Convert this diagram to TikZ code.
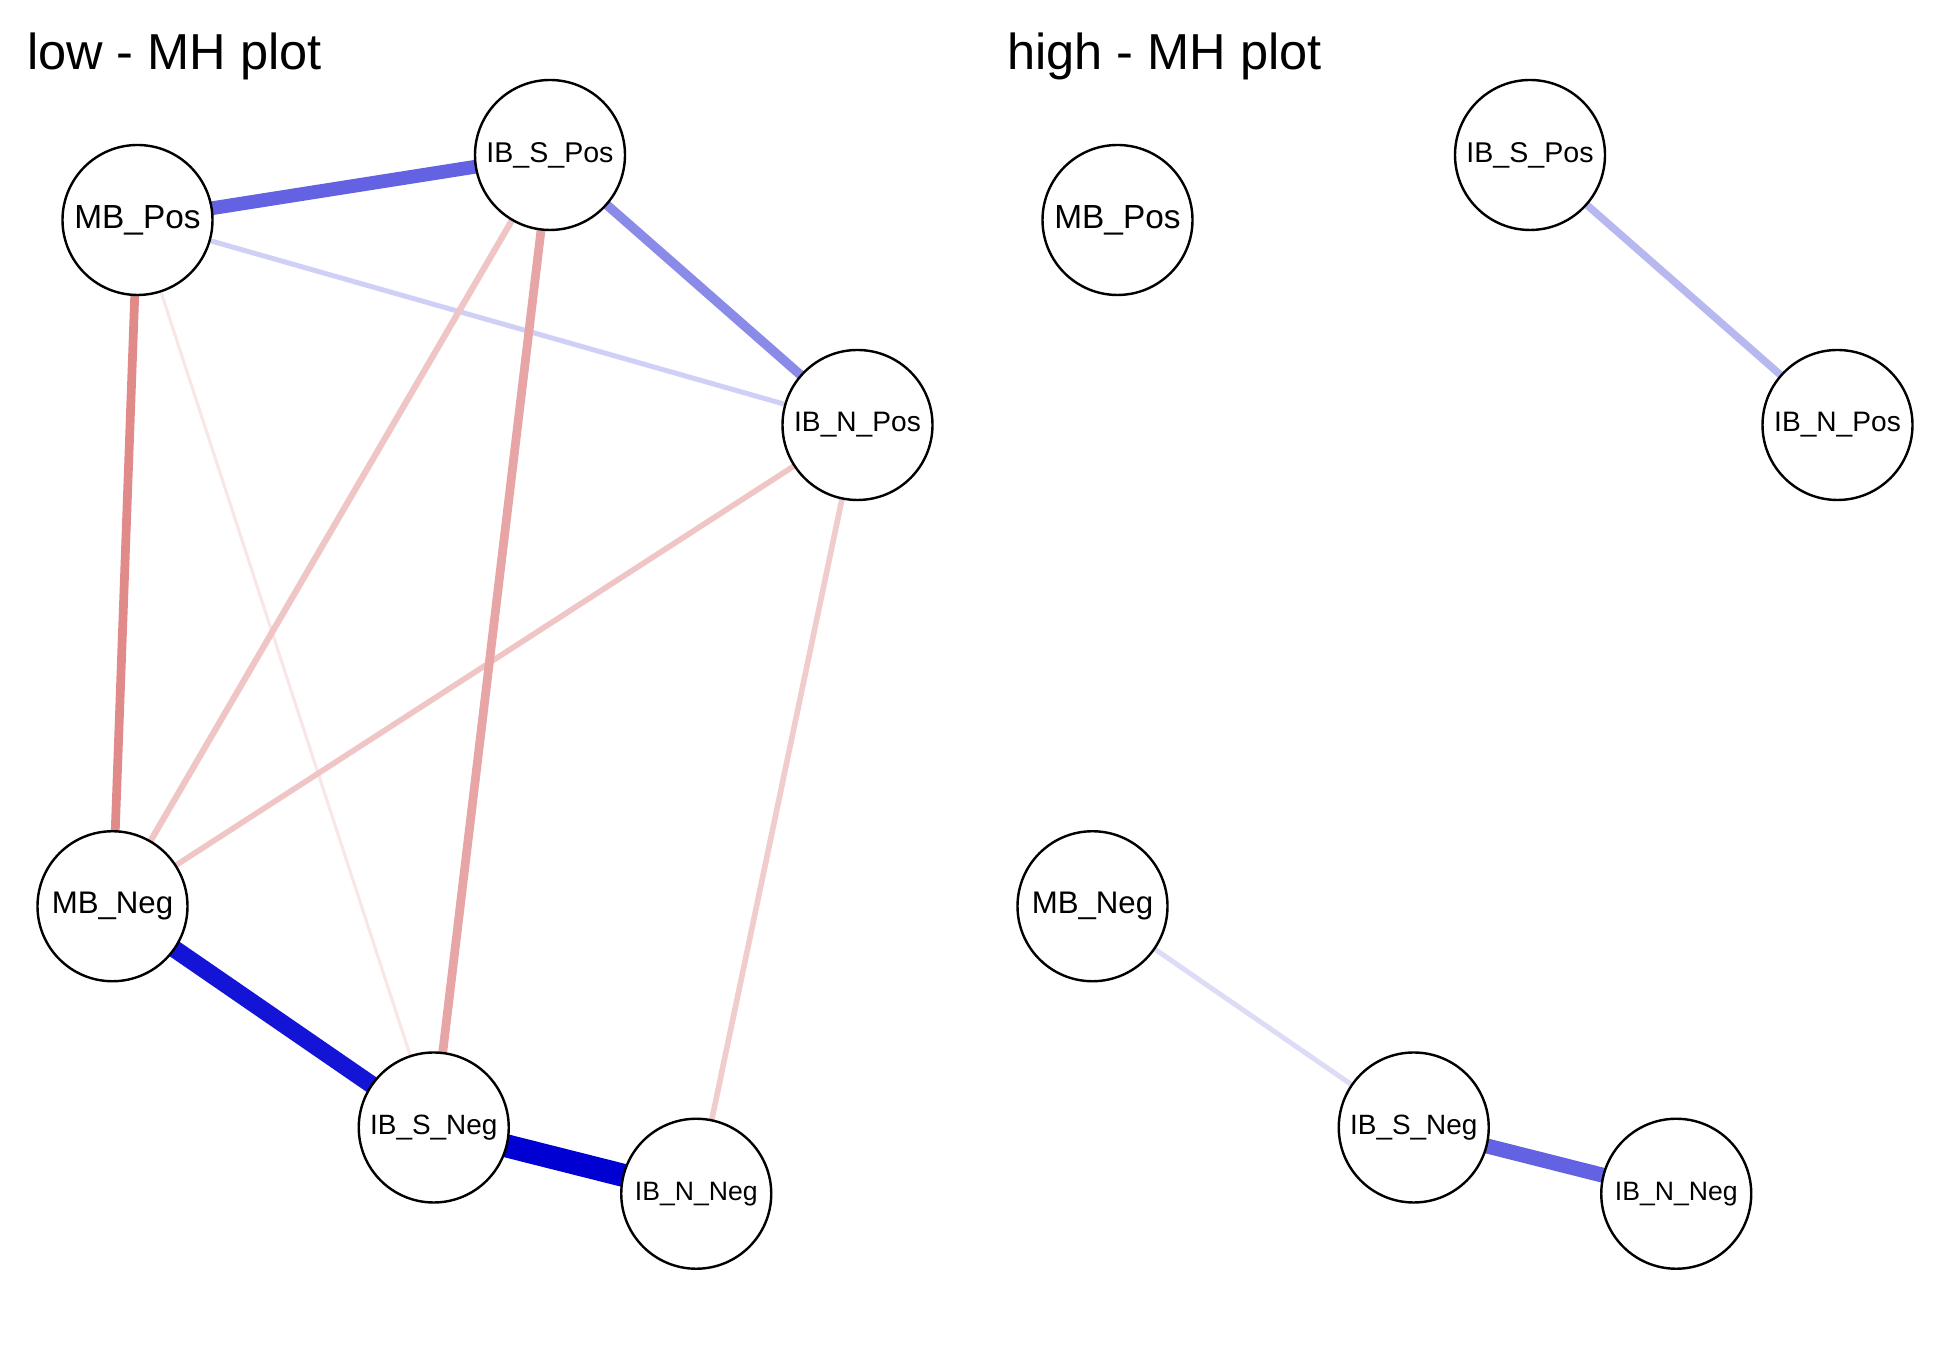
\documentclass[tikz,border=0pt]{standalone}
\usepackage{fontspec}
\setmainfont{Liberation Sans}
\usetikzlibrary{backgrounds}
\definecolor{eBlueA}{HTML}{6262E2}
\definecolor{eBlueB}{HTML}{8A8AE8}
\definecolor{eBlueC}{HTML}{D0D0F6}
\definecolor{eBlueD}{HTML}{1414D6}
\definecolor{eBlueE}{HTML}{0000D2}
\definecolor{eBlueF}{HTML}{B8B8F0}
\definecolor{eBlueG}{HTML}{DCDCF6}
\definecolor{eRedA}{HTML}{E08A8A}
\definecolor{eRedB}{HTML}{E8A5A5}
\definecolor{eRedC}{HTML}{EFC5C5}
\definecolor{eRedD}{HTML}{F0CCCC}
\definecolor{eRedE}{HTML}{F8E7E6}
\tikzset{
  vnode/.style={circle, draw=black, line width=0.55pt, fill=white, minimum size=120*0.01cm, inner sep=0pt},
  lab/.style={font=\fontsize{#1}{#1}\selectfont},
  edge/.style={line width=#1*0.2845pt},
  ttl/.style={anchor=base west, font=\fontsize{11.5}{12}\selectfont, inner sep=0pt}
}
\begin{document}
\begin{tikzpicture}[x=0.01cm, y=-0.01cm]
\useasboundingbox (0,0) rectangle (1560,1080);
% titles
\node[ttl] (t1) at (21,56) {low - MH plot};
\node[ttl] (t2) at (805,56) {high - MH plot};
% left panel
\node[vnode, lab=7.6] (lMBP) at (110,176) {MB\_Pos};
\node[vnode, lab=6.5] (lISP) at (440,124) {IB\_S\_Pos};
\node[vnode, lab=6.4] (lINP) at (686,340) {IB\_N\_Pos};
\node[vnode, lab=7.1] (lMBN) at (90,725) {MB\_Neg};
\node[vnode, lab=6.35] (lISN) at (347,902) {IB\_S\_Neg};
\node[vnode, lab=6.05] (lINN) at (557,955) {IB\_N\_Neg};
% right panel
\node[vnode, lab=7.6] (rMBP) at (894,176) {MB\_Pos};
\node[vnode, lab=6.5] (rISP) at (1224,124) {IB\_S\_Pos};
\node[vnode, lab=6.4] (rINP) at (1470,340) {IB\_N\_Pos};
\node[vnode, lab=7.1] (rMBN) at (874,725) {MB\_Neg};
\node[vnode, lab=6.35] (rISN) at (1131,902) {IB\_S\_Neg};
\node[vnode, lab=6.05] (rINN) at (1341,955) {IB\_N\_Neg};
\begin{scope}[on background layer]
% left edges
\draw[edge=2.5, eRedE] (lMBP.center) -- (lISN.center);
\draw[edge=4, eBlueC] (lMBP.center) -- (lINP.center);
\draw[edge=5, eRedC] (lISP.center) -- (lMBN.center);
\draw[edge=4.5, eRedC] (lINP.center) -- (lMBN.center);
\draw[edge=4.5, eRedD] (lINP.center) -- (lINN.center);
\draw[edge=7, eRedB] (lISP.center) -- (lISN.center);
\draw[edge=7, eRedA] (lMBP.center) -- (lMBN.center);
\draw[edge=7.5, eBlueB] (lISP.center) -- (lINP.center);
\draw[edge=11, eBlueA] (lMBP.center) -- (lISP.center);
\draw[edge=14, eBlueD] (lMBN.center) -- (lISN.center);
\draw[edge=18.5, eBlueE] (lISN.center) -- (lINN.center);
% right edges
\draw[edge=6, eBlueF] (rISP.center) -- (rINP.center);
\draw[edge=4, eBlueG] (rMBN.center) -- (rISN.center);
\draw[edge=12, eBlueA] (rISN.center) -- (rINN.center);
\end{scope}
\end{tikzpicture}
\end{document}
